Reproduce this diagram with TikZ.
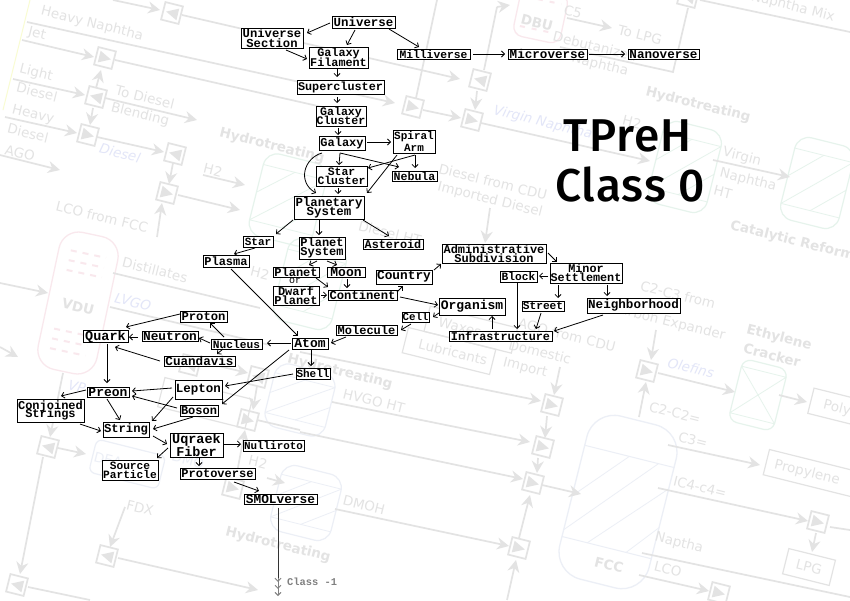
\documentclass[tikz,border=0pt]{standalone}
\usepackage{fontspec}
\usetikzlibrary{arrows.meta}
\newfontfamily\pix{Liberation Mono}
\newfontfamily\bgfont{DejaVu Sans}
\newfontfamily\ttlfont[BoldFont={Fira Sans Medium},LetterSpace=2]{Fira Sans}
\definecolor{bgg}{HTML}{E3E3E3}
\definecolor{bgb}{HTML}{E3E6F8}
\definecolor{bgp}{HTML}{F9E8ED}
\definecolor{bgv}{HTML}{ECEFF6}
\definecolor{bgn}{HTML}{E6F3EC}
\tikzset{
  box/.style={draw=black,line width=1pt,fill=white,inner sep=0pt,align=center,text=black},
  arr/.style={draw=black,line width=.8pt,-{Straight Barb[length=3pt,width=6pt]}},
  bgl/.style={draw=bgg,line width=1.7pt},
  bga/.style={draw=bgg,line width=1.7pt,-{Stealth[length=12pt,width=12pt]}},
  bgt/.style={text=bgg,rotate=-14,font=\fontsize{13.5}{15}\selectfont\bgfont,inner sep=0pt,align=center},
  ves/.style={line width=1.2pt,rounded corners=14pt},
  hat/.style={line width=.8pt}
}
% foreground box: [font size]{name}{x1}{y1}{x2}{y2}{text}; remembers the centre
\newcommand\bx[7][12]{%
  \pgfmathsetmacro\bw{#5-#3}\pgfmathsetmacro\bh{#6-#4}%
  \pgfmathsetmacro\bcx{(#3+#5)/2}\pgfmathsetmacro\bcy{(#4+#6)/2}%
  \expandafter\xdef\csname cx#2\endcsname{\bcx}\expandafter\xdef\csname cy#2\endcsname{\bcy}%
  \node[box,minimum width=\bw pt,minimum height=\bh pt,font=\fontsize{#1}{#1}\selectfont\pix\bfseries] (#2) at (\bcx,\bcy) {#7};}
% connector from node to node, with the picture position of each end
\newcommand\E[7][]{%
  \pgfmathsetmacro\dax{#3-\csname cx#2\endcsname}\pgfmathsetmacro\day{#4-\csname cy#2\endcsname}%
  \pgfmathsetmacro\dbx{#6-\csname cx#5\endcsname}\pgfmathsetmacro\dby{#7-\csname cy#5\endcsname}%
  \draw[arr,#1] ([shift={(\dax,\day)}]#2.center) -- ([shift={(\dbx,\dby)}]#5.center);}
% background pieces
\newcounter{bgc}
\newcommand\T[4][]{\stepcounter{bgc}\node[bgt,#1] (bg\thebgc) at (#2,#3) {#4};}
\newcommand\mixr[2]{\begin{scope}[shift={(#1,#2)},rotate=-14]
  \draw[bgl] (-9,-9) rectangle (9,9);\fill[bgg] (-6,-6) -- (6,0) -- (-6,6) -- cycle;\end{scope}}
\newcommand\mixl[2]{\begin{scope}[shift={(#1,#2)},rotate=-14]
  \draw[bgl] (-9,-9) rectangle (9,9);\fill[bgg] (6,-6) -- (-6,0) -- (6,6) -- cycle;\end{scope}}
\newcommand\vess[6]{\begin{scope}[shift={(#1,#2)},rotate=-14]
  \pgfmathsetmacro\hw{#3/2}\pgfmathsetmacro\hh{#4/2}
  \draw[ves,draw=#5] (-\hw,-\hh) rectangle (\hw,\hh);
  \draw[hat,draw=#5] (-\hw,-\hh+#6) -- (\hw,-\hh+#6) (-\hw,\hh-#6) -- (\hw,\hh-#6);
  \draw[hat,draw=#5] (-\hw,\hh-#6) -- (\hw,-\hh+#6) (-\hw,0) -- (0,-\hh+#6) (0,\hh-#6) -- (\hw,0);
\end{scope}}
\begin{document}
\begin{tikzpicture}[x=1pt,y=-1pt]
\useasboundingbox (0,0) rectangle (850,600);
\fill[white] (0,0) rectangle (850,600);
\begin{scope}
\clip (0,0) rectangle (850,600);
% ---------- faint background plant ----------
\draw[draw=bgn!60!yellow!40,line width=1pt] (30,0) -- (3,110);
% vessels
\begin{scope}[shift={(78,303)},rotate=-12]
  \draw[bgp,line width=1.3pt,rounded corners=20pt] (-30,-70) rectangle (30,70);
  \foreach \yy in {-50,-40,-30,30,40,50}{\draw[bgp,line width=2pt,dash pattern=on 6pt off 6pt] (-18,\yy) -- (18,\yy);}
\end{scope}
\begin{scope}[shift={(540,18)},rotate=-12]
  \draw[bgp,line width=1.3pt,rounded corners=10pt] (-24,-28) rectangle (24,22);
  \foreach \yy in {-18,12}{\draw[bgp,line width=2pt,dash pattern=on 5pt off 7pt] (-18,\yy) -- (18,\yy);}
\end{scope}
\vess{685}{167}{60}{85}{bgn}{14}
\vess{817}{183}{60}{85}{bgn}{14}
\vess{288}{200}{65}{85}{bgn}{14}
\vess{310}{284}{60}{85}{bgn}{14}
\vess{300}{400}{62}{65}{bgv}{12}
\vess{306}{503}{62}{68}{bgv}{12}
\begin{scope}[shift={(618,502)},rotate=-14]
  \draw[bgv,line width=1.3pt,rounded corners=28pt] (-46,-84) rectangle (46,84);
  \draw[bgv,line width=1pt] (-46,-47) -- (46,-47) (-46,47) -- (46,47);
  \draw[bgv,line width=.8pt] (-46,40) -- (30,-47) (-46,5) -- (0,-47) (-20,47) -- (46,-25) (20,47) -- (46,15);
\end{scope}
\begin{scope}[shift={(758,395)},rotate=-14]
  \draw[bgn,line width=1.2pt,rounded corners=9pt] (-23,-32) rectangle (23,32);
  \draw[bgn,line width=.8pt] (-23,-24) -- (23,-24) (-23,24) -- (23,24) (-23,-24) -- (23,24) (23,-24) -- (-23,24);
\end{scope}
% product boxes
\begin{scope}[rotate around={-14:(449,351)}]
  \draw[bgl,line width=1.2pt] (404,338) rectangle (494,364);
  \draw[bgl,line width=1.2pt] (420,312) rectangle (510,338);
\end{scope}
\draw[bgv,line width=1.2pt,rounded corners=6pt,rotate around={-14:(127,463)}] (92,447) rectangle (163,481);
\draw[bgl,line width=1.2pt,rotate around={-14:(205,403)}] (160,388) rectangle (250,418);
\draw[bgl,line width=1.2pt,rotate around={-14:(810,473)}] (765,460) rectangle (890,486);
\draw[bgl,line width=1.2pt,rotate around={-14:(809,567)}] (785,554) rectangle (833,580);
\draw[bgl,line width=1.2pt,rotate around={-14:(840,408)}] (810,395) rectangle (900,421);
% mixers
\mixl{172}{13}\mixr{105}{58}\mixl{96}{97}\mixr{88}{135}\mixl{175}{154}\mixr{167}{193}
\mixl{480}{80}\mixr{413}{107}\mixr{472}{120}\mixl{688}{-3}
\mixl{48}{447}\mixl{17}{585}\mixl{107}{556}
\mixr{233}{488}\mixr{248}{420}\mixl{258}{377}\mixl{190}{365}
\mixr{552}{405}\mixr{543}{447}\mixr{533}{483}\mixr{519}{548}\mixr{647}{371}\mixr{818}{522}\mixr{719}{593}
% lines
\draw[bga] (113,0) -- (160,10);
\draw[bga] (182,15) -- (460,79);
\draw[bga] (27,22) -- (395,103);
\draw[bga] (423,110) -- (461,118);
\draw[bga] (481,123) -- (650,161);
\draw[bgl] (22,40) -- (60,49);\draw[bga] (60,49) -- (94,57);
\draw[bgl] (115,60) -- (353,114);
\draw[bga] (13,79) -- (85,95);
\draw[bga] (5,117) -- (77,133);
\draw[bga] (0,155) -- (60,170);
\draw[bga] (105,98) -- (197,120);
\draw[bga] (97,137) -- (164,152);
\draw[bga] (173,163) -- (169,184);
\draw[bga] (178,195) -- (240,210);
\draw[bga] (96,88) -- (101,70);
\draw[bga] (93,108) -- (90,125);
\draw[bga] (157,237) -- (162,203);
\draw[bga] (203,175) -- (245,185);
\draw[bgl] (437,0) -- (416,98);
\draw[bga] (477,91) -- (475,110);
\draw[bgl] (484,70) -- (497,7);\draw[bga] (497,7) -- (510,5);
\draw[bga] (567,18) -- (612,28);
\draw[bgl] (560,47) -- (673,72) -- (688,8);
\draw[bgl] (700,0) -- (850,32);
\draw[bga] (713,160) -- (790,177);
\draw[bga] (490,208) -- (485,243);
\draw[bga] (0,283) -- (48,293);
\draw[bga] (0,347) -- (18,357);
\draw[bgl] (113,273) -- (260,308);
\draw[bgl] (110,307) -- (270,345);
\draw[bga] (63,373) -- (50,437);
\draw[bga] (58,448) -- (86,454);
\draw[bga] (43,457) -- (20,574);
\draw[bgl] (28,587) -- (90,600);
\draw[bga] (125,507) -- (110,547);
\draw[bga] (118,558) -- (258,590);
\draw[bga] (193,360) -- (248,373);
\draw[bga] (257,386) -- (253,410);
\draw[bgl] (257,420) -- (300,430);
\draw[bga] (236,478) -- (245,430);
\draw[bga] (267,478) -- (285,483);
\draw[bga] (300,352) -- (541,401);
\draw[bga] (332,402) -- (530,442);
\draw[bga] (300,432) -- (523,479);
\draw[bga] (335,509) -- (509,546);
\draw[bga] (560,367) -- (554,395);
\draw[bga] (547,416) -- (545,438);
\draw[bga] (538,458) -- (537,473);
\draw[bga] (542,485) -- (581,494);
\draw[bga] (507,600) -- (516,560);
\draw[bga] (519,538) -- (530,495);
\draw[bga] (639,417) -- (646,382);
\draw[bga] (656,330) -- (651,360);
\draw[bga] (658,373) -- (735,392);
\draw[bga] (779,395) -- (807,402);
\draw[bga] (668,445) -- (760,465);
\draw[bga] (658,488) -- (808,521);
\draw[bgl] (830,527) -- (850,530);
\draw[bga] (816,533) -- (812,552);
\draw[bgl] (642,553) -- (850,597);
\draw[bga] (639,575) -- (709,591);
% labels
\T{92}{24}{Heavy Naphtha}\T{37}{34}{Jet}\T{36}{73}{Light}\T{37}{92}{Diesel}
\T{33}{115}{Heavy}\T{28}{133}{Diesel}\T{20}{153}{AGO}\T{145}{97}{To Diesel}\T{140}{115}{Blending}
\T[text=bgb,font=\fontsize{13.5}{15}\selectfont\bgfont\itshape]{120}{153}{Diesel}
\T{213}{170}{H2}\T{102}{217}{LCO from FCC}
\T{155}{270}{Distillates}\T[text=bgb,font=\fontsize{13.5}{15}\selectfont\bgfont\itshape]{133}{302}{LVGO}
\T[font=\fontsize{13.5}{15}\selectfont\bgfont\bfseries]{78}{307}{VDU}
\T[text=bgb,font=\fontsize{13.5}{15}\selectfont\bgfont\itshape]{77}{387}{VP}
\T[font=\fontsize{13.5}{15}\selectfont\bgfont\bfseries]{272}{146}{Hydrotreating}
\T{390}{233}{Diesel HT}\T{260}{273}{H2}
\T[font=\fontsize{13.5}{15}\selectfont\bgfont\bfseries]{340}{372}{Hydrotreating}
\T{374}{401}{HVGO HT}\T{364}{505}{DMOH}
\T[font=\fontsize{13.5}{15}\selectfont\bgfont\bfseries]{278}{545}{Hydrotreating}
\T{140}{508}{FDX}\T[text=bgv]{108}{460}{DEA}\T[text=bgv]{188}{460}{DMO}\T{258}{462}{H2}
\T{453}{352}{Lubricants}\T{460}{327}{Waxes}\T{567}{335}{AGO from CDU}\T{540}{352}{Domestic}\T{525}{368}{Import}
\T[font=\fontsize{13.5}{15}\selectfont\bgfont\bfseries]{537}{23}{DBU}
\T{573}{12}{C5}\T{640}{35}{To LPG}\T{595}{46}{Debutanized}\T{600}{65}{Naphtha}\T{793}{7}{Naphtha Mix}
\T[font=\fontsize{13.5}{15}\selectfont\bgfont\bfseries]{698}{105}{Hydrotreating}
\T{632}{122}{H2}\T[text=bgb,font=\fontsize{13.5}{15}\selectfont\bgfont\itshape]{543}{123}{Virgin Naphtha}
\T{493}{182}{Diesel from CDU}\T{490}{200}{Imported Diesel}
\T{742}{157}{Virgin}\T{748}{180}{Naphtha}\T{723}{192}{HT}
\T[font=\fontsize{13.5}{15}\selectfont\bgfont\bfseries]{800}{243}{Catalytic Reformer}
\T{678}{295}{C2-C3 from}\T{668}{322}{Carbon Expander}
\T[font=\fontsize{13.5}{15}\selectfont\bgfont\bfseries]{779}{338}{Ethylene}\T[font=\fontsize{13.5}{15}\selectfont\bgfont\bfseries]{772}{355}{Cracker}
\T[text=bgb,font=\fontsize{13.5}{15}\selectfont\bgfont\itshape]{691}{368}{Olefins}
\T{675}{413}{C2-C2=}\T{693}{440}{C3=}\T{700}{487}{IC4-c4=}\T{679}{543}{Naptha}\T{668}{569}{LCO}
\T{807}{473}{Propylene}\T{809}{567}{LPG}\T{837}{408}{Poly}
\T[font=\fontsize{13.5}{15}\selectfont\bgfont\bfseries]{609}{565}{FCC}
\end{scope}
% ---------- title ----------
\node[font=\fontsize{46}{50}\selectfont\ttlfont\bfseries,inner sep=0pt,text=black] (ttlA) at (627.5,136) {TPreH};
\node[font=\fontsize{46}{50}\selectfont\ttlfont\bfseries,inner sep=0pt,text=black] (ttlB) at (630,184) {Class 0};
% ---------- nodes ----------
\bx[12.4]{univ}{332}{16}{395}{28}{Universe}
\bx[12.2]{sec}{241}{28}{303}{48}{Universe\\[-2.5pt]Section}
\bx[11.8]{fil}{309}{47}{368}{68}{Galaxy\\[-2pt]Filament}
\bx[11.3]{mil}{397}{49}{470}{59}{Milliverse}
\bx[12.6]{mic}{508}{49}{587}{59}{Microverse}
\bx[12.6]{nan}{628}{49}{699}{59}{Nanoverse}
\bx[11.8]{sup}{297}{80}{384}{94}{Supercluster}
\bx[11.6]{gcl}{316}{106}{366}{126}{Galaxy\\[-2pt]Cluster}
\bx{gal}{319}{136}{365}{150}{Galaxy}
\bx[11]{spi}{393}{130}{435}{153}{Spiral\\[1.5pt]Arm}
\bx[11.4]{stc}{316}{166}{367}{186}{Star\\[-2pt]Cluster}
\bx[11.6]{neb}{392}{171}{437}{181}{Nebula}
\bx[12.4]{pls}{294}{196}{364}{219}{Planetary\\[-3pt]System}
\bx[11]{sta}{243}{236}{273}{247}{Star}
\bx[12]{psy}{299}{237}{345}{259}{Planet\\[-2.5pt]System}
\bx[11.8]{ast}{363}{239}{423}{249}{Asteroid}
\bx[12]{pla}{203}{255}{249}{267}{Plasma}
\bx[12]{plt}{273}{267}{319}{277}{Planet}
\bx[13]{moo}{327}{267}{365}{277}{Moon}
\bx[12]{dwf}{273}{286}{319}{305}{Dwarf\\[-2.5pt]Planet}
\bx[12.2]{con}{328}{290}{397}{300}{Continent}
\bx[12.8]{cou}{376}{270}{432}{284}{Country}
\bx[10.8]{cel}{402}{312}{429}{322}{Cell}
\bx[12]{mol}{336}{325}{397}{335}{Molecule}
\bx[13]{ato}{292}{338}{328}{349}{Atom}
\bx[11]{she}{296}{368}{330}{379}{Shell}
\bx[11.2]{nuc}{211}{339}{262}{349}{Nucleus}
\bx[12]{adm}{442}{244}{546}{263}{Administrative\\[-2.5pt]Subdivision}
\bx[11.8]{mnr}{550}{263}{622}{283}{Minor\\[-2.5pt]Settlement}
\bx[11.2]{blo}{500}{271}{537}{282}{Block}
\bx[11.2]{stt}{522}{301}{564}{311}{Street}
\bx[12.6]{nei}{587}{298}{680}{313}{Neighborhood}
\bx[13]{org}{439}{298}{505}{315}{Organism}
\bx[11.8]{inf}{449}{331}{552}{341}{Infrastructure}
\bx[12.2]{pro}{180}{311}{227}{322}{Proton}
\bx[13.5]{qua}{83}{331}{128}{342}{Quark}
\bx[12.8]{neu}{142}{331}{198}{341}{Neutron}
\bx[12.6]{cua}{164}{356}{235}{366}{Cuandavis}
\bx[13]{pre}{87}{387}{129}{397}{Preon}
\bx[12.5]{lep}{175}{380}{222}{399}{Lepton}
\bx[12]{bos}{180}{405}{218}{416}{Boson}
\bx[12]{cjs}{17}{399}{84}{422}{Conjoined\\[-4pt]Strings}
\bx[12.2]{stg}{103}{422}{149}{437}{String}
\bx[13.5]{uqr}{170}{433}{223}{457}{Uqraek\\[-.5pt]Fiber}
\bx[11.2]{sou}{102}{460}{158}{480}{Source\\[-2.5pt]Particle}
\bx[12]{ptv}{180}{468}{255}{479}{Protoverse}
\bx[10.9]{nul}{243}{440}{304}{451}{Nulliroto}
\bx[12.8]{smo}{244}{494}{317}{504}{SMOLverse}
\node[font=\fontsize{10}{10}\selectfont\pix,inner sep=0pt,text=black] (ortxt) at (295,281) {or};
% ---------- connectors ----------
\E{univ}{330}{23}{sec}{307}{33}
\E{univ}{355}{30}{fil}{347}{45}
\E{univ}{389}{29}{mil}{419}{47}
\E{sec}{286}{50}{fil}{307}{59}
\E{fil}{337}{69}{sup}{337}{77}
\E{sup}{337}{97}{gcl}{337}{103}
\E{gcl}{338}{128}{gal}{338}{135}
\E{gal}{367}{142}{spi}{391}{142}
\E{gal}{340}{153}{stc}{339}{165}
\E{gal}{340}{153}{neb}{399}{167}
\E{spi}{415}{155}{neb}{415}{168}
\E{spi}{415}{155}{stc}{368}{168}
\E{spi}{397}{155}{pls}{367}{193}
\draw[arr] ([shift={(-20,10)}]gal.center) .. controls (304,158) and (297,182) .. ([shift={(-13,-14.5)}]pls.center);
\E{stc}{338}{188}{pls}{338}{194}
\E{pls}{293}{220}{sta}{276}{234}
\E{pls}{319}{220}{psy}{319}{235}
\E{pls}{363}{220}{ast}{389}{236}
\E{sta}{255}{248}{pla}{234}{254}
\E{pla}{231}{269}{ato}{298}{336}
\E{psy}{317}{261}{plt}{309}{265}
\E{psy}{327}{261}{moo}{337}{265}
\E{plt}{316}{278}{con}{328}{287}
\E{moo}{347}{279}{con}{347}{288}
\E{dwf}{321}{295}{con}{327}{295}
\E{con}{397}{292}{cou}{403}{286}
\E{con}{400}{297}{org}{438}{305}
\E{cou}{434}{270}{adm}{441}{264}
\E{adm}{548}{253}{mnr}{557}{262}
\E{mnr}{548}{276}{blo}{539}{276}
\E{mnr}{558}{285}{stt}{558}{298}
\E{mnr}{607}{285}{nei}{607}{296}
\E{blo}{517}{283}{inf}{517}{329}
\E{stt}{541}{313}{inf}{536}{329}
\E{nei}{603}{315}{inf}{554}{331}
\E{inf}{492}{329}{org}{492}{316}
\E{org}{439}{313}{cel}{433}{317}
\E{cel}{411}{324}{mol}{401}{330}
\E{mol}{346}{337}{ato}{331}{343}
\E{ato}{291}{343}{nuc}{267}{343}
\E{ato}{311}{350}{she}{311}{366}
\E{she}{293}{374}{lep}{225}{386}
\E{ato}{289}{350}{bos}{222}{404}
\E{nuc}{224}{337}{pro}{210}{323}
\E{nuc}{210}{343}{neu}{199}{338}
\E{nuc}{223}{349}{cua}{217}{354}
\E{pro}{180}{314}{qua}{126}{327}
\E{neu}{138}{337}{qua}{129}{337}
\E{cua}{160}{361}{qua}{115}{347}
\E{qua}{107}{344}{pre}{107}{383}
\E{pre}{86}{390}{cjs}{61}{396}
\E{pre}{107}{399}{stg}{120}{420}
\E{lep}{172}{388}{pre}{132}{391}
\E{lep}{173}{397}{stg}{152}{421}
\E{bos}{177}{408}{pre}{132}{396}
\E{bos}{193}{417}{stg}{153}{429}
\E{cjs}{80}{424}{stg}{101}{431}
\E{stg}{153}{436}{uqr}{167}{444}
\E{uqr}{168}{448}{sou}{157}{458}
\E{uqr}{224}{444}{nul}{241}{444}
\E{uqr}{199}{458}{ptv}{199}{466}
\E{ptv}{234}{482}{smo}{259}{491}
\E{mil}{473}{54}{mic}{505}{54}
\E{mic}{589}{54}{nan}{625}{54}
% ---------- to the next class ----------
\coordinate (fade) at (278,578);
\coordinate (cnext) at (278,596);
\draw[draw=black!80,line width=.9pt] ([xshift=-2.5pt,yshift=-3pt]smo.south) -- (fade);
\draw[draw=black!50,line width=.9pt,-{Straight Barb[length=3pt,width=6pt,sep=3pt]Straight Barb[length=3pt,width=6pt,sep=3pt]Straight Barb[length=3pt,width=6pt]}] (fade) -- (cnext);
\node[anchor=west,font=\fontsize{10.4}{10.4}\selectfont\pix\bfseries,text=black!50,inner sep=0pt] (cls) at (287,582) {Class -1};
\end{tikzpicture}
\end{document}
